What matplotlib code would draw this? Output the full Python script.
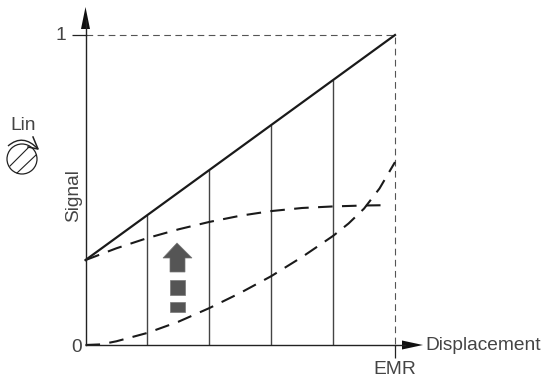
import matplotlib
matplotlib.use("Agg")
import matplotlib.pyplot as plt
from matplotlib.patches import Polygon, Circle, Rectangle, PathPatch
from matplotlib.path import Path
from matplotlib.transforms import Affine2D

W, H = 542, 378
plt.rcParams['font.family'] = ['Liberation Sans', 'DejaVu Sans']

# values
grid_x = [0.2, 0.4, 0.6, 0.8]
grid_top = [0.419, 0.564, 0.710, 0.855]
line_x = [0, 1]
line_y = [0.274, 1]
upper_x = [0, 0.1, 0.2, 0.3, 0.4, 0.5, 0.6, 0.7, 0.8, 0.9, 0.97]
upper_y = [0.274, 0.312, 0.345, 0.373, 0.397, 0.417, 0.432, 0.442, 0.447, 0.450, 0.451]
lower_x = [0, 0.05, 0.1, 0.2, 0.3, 0.4, 0.5, 0.6, 0.7, 0.8, 0.85, 0.9, 0.95, 1]
lower_y = [0, 0.002, 0.012, 0.039, 0.075, 0.119, 0.168, 0.222, 0.284, 0.352, 0.392, 0.44, 0.505, 0.59]
ytick_vals = [0, 1]
ytick_labels = ['0', '1']
xlabel = 'Displacement'
ylabel = 'Signal'
xtick_label = 'EMR'
knob_label = 'Lin'
text_colour = '#444444'
fs = 13.8

fig = plt.figure(figsize=(W / 100, H / 100), dpi=100)
L, R, T, B = 85.5, 395, 35, 345
ax = fig.add_axes([L / W, 1 - B / H, (R - L) / W, (B - T) / H])
ax.set_xlim(0, 1)
ax.set_ylim(0, 1)
ax.patch.set_alpha(0)
for s in ['top', 'right']:
    ax.spines[s].set_visible(False)
for s in ['left', 'bottom']:
    ax.spines[s].set_linewidth(1.0)
    ax.spines[s].set_color('#222222')
ax.set_xticks([1])
ax.set_xticklabels([xtick_label], fontsize=fs, color=text_colour)
ax.tick_params(axis='x', length=9.5, width=0.9, color='#222222', pad=2.2)
ax.set_yticks([1])
ax.set_yticklabels([''])
ax.tick_params(axis='y', length=10, width=0.9, color='#222222')
ax.annotate(ytick_labels[0], (0, ytick_vals[0]), xytext=(-4, -3), textcoords='offset pixels',
            ha='right', va='center', fontsize=fs, color=text_colour, annotation_clip=False)
ax.annotate(ytick_labels[1], (0, ytick_vals[1]), xytext=(-19, -1), textcoords='offset pixels',
            ha='right', va='center', fontsize=fs, color=text_colour, annotation_clip=False)

ax.vlines(grid_x, 0, grid_top, color='#444444', lw=1.0)
ax.plot([0, 1, 1], [1, 1, 0], color='#555555', lw=0.8, dashes=(6, 4), clip_on=False)
ax.plot(line_x, line_y, color='#1a1a1a', lw=1.6, clip_on=False)
ax.plot(upper_x, upper_y, color='#1a1a1a', lw=1.5, dashes=(7, 4.5), clip_on=False)
ax.plot(lower_x, lower_y, color='#1a1a1a', lw=1.5, dashes=(7, 4.5), clip_on=False)

# pixel-space layer for annotation glyphs
px = Affine2D().scale(1, -1).translate(0, H)
def add(p):
    p.set_transform(px)
    p.set_clip_on(False)
    fig.add_artist(p)

add(plt.Line2D([85.5, 85.5], [35, 20], color='#222222', lw=1.0))
add(plt.Line2D([395, 405], [345, 345], color='#222222', lw=1.0))
add(Polygon([(85.5, 7), (81, 29), (90, 29)], closed=True, fc='#111111', ec='none'))
add(Polygon([(423, 345), (402, 340.5), (402, 349.5)], closed=True, fc='#111111', ec='none'))

grey = '#555555'
add(Polygon([(177, 243), (163, 258), (170, 258), (170, 272), (185, 272), (185, 258), (192, 258)],
            closed=True, fc=grey, ec='#777777', lw=0.5))
add(Rectangle((170, 280), 15, 15, fc=grey, ec='#777777', lw=0.5))
add(Rectangle((170, 302), 15, 9.5, fc=grey, ec='#777777', lw=0.5))

# knob
add(Circle((22, 159), 15, fc='none', ec='#222222', lw=0.9))
add(plt.Line2D([10, 29], [166, 147], color='#222222', lw=0.8))
add(plt.Line2D([17, 36], [173, 155], color='#222222', lw=0.8))
add(PathPatch(Path([(8, 146), (23, 133), (38, 149)], [Path.MOVETO, Path.CURVE3, Path.CURVE3]),
              fc='none', ec='#222222', lw=1.0))
add(plt.Line2D([33, 38, 28], [137, 149, 147], color='#222222', lw=1.1))

fig.text(23 / W, 1 - 125 / H, knob_label, fontsize=fs, color=text_colour, ha='center', va='center')
fig.text(425 / W, 1 - 346 / H, xlabel, fontsize=fs, color=text_colour, ha='left', va='center')
fig.text(74 / W, 1 - 196 / H, ylabel, fontsize=fs, color=text_colour, ha='center', va='center', rotation=90)

fig.savefig('out.png', dpi=100)
